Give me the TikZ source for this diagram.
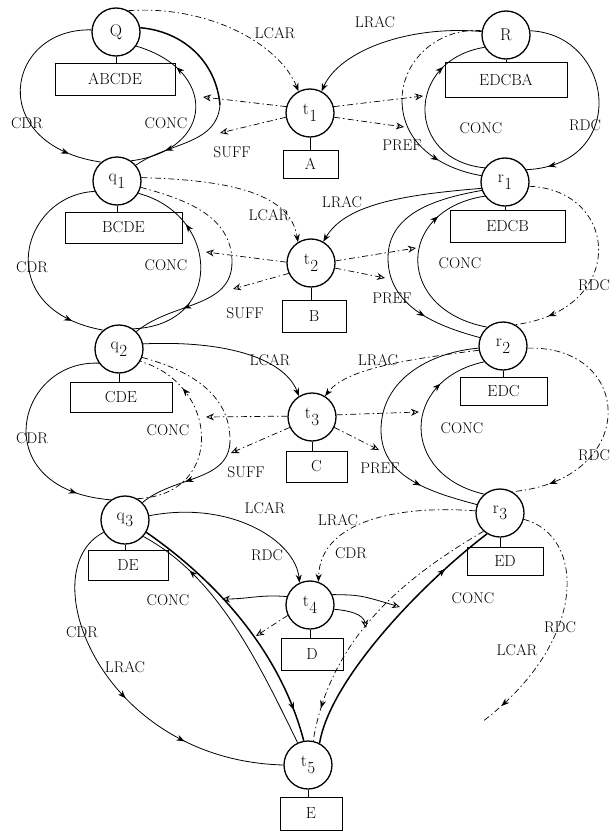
\documentclass[tikz,border=0pt]{standalone}
\usetikzlibrary{arrows.meta,decorations.markings}
\newcommand\tsub[2]{#1\kern0.5pt\raisebox{-0.4em}{#2}}
\tikzset{
  st/.style={circle,draw,line width=1.3pt,minimum size=48pt,inner sep=0pt,font=\fontsize{17}{17}\selectfont},
  bx/.style={draw,line width=0.9pt,inner sep=0pt,font=\fontsize{16}{16}\selectfont},
  lb/.style={inner sep=0pt,font=\fontsize{15.5}{16}\selectfont},
  ln/.style={line width=0.8pt},
  fa/.style={line width=0.7pt,dash pattern=on 6pt off 3pt on 1.5pt off 3pt},
  thk/.style={line width=1.5pt},
  ar/.style={postaction={decorate,decoration={markings,mark=at position #1 with {\arrow{Stealth[length=8pt,width=6pt]}}}}},
  ae/.style={-{Stealth[length=8pt,width=6pt]}},
  ho/.style={-{Stealth[open,length=8pt,width=7pt,line width=0.8pt]}},
}
\begin{document}
\begin{tikzpicture}[x=1pt,y=-1pt]
\useasboundingbox (0,0) rectangle (614,832);
% state nodes
\node[st] (Q) at (116,32) {Q};
\node[st] (R) at (506,35) {R};
\node[st] (t1) at (310,113) {\tsub{t}{1}};
\node[st] (q1) at (117,181) {\tsub{q}{1}};
\node[st] (r1) at (505,182) {\tsub{r}{1}};
\node[st] (t2) at (311,263) {\tsub{t}{2}};
\node[st] (q2) at (119,349) {\tsub{q}{2}};
\node[st] (r2) at (503,346) {\tsub{r}{2}};
\node[st] (t3) at (312,417) {\tsub{t}{3}};
\node[st] (q3) at (125,520) {\tsub{q}{3}};
\node[st] (r3) at (500,513) {\tsub{r}{3}};
\node[st] (t4) at (310,605) {\tsub{t}{4}};
\node[st] (t5) at (308,765) {\tsub{t}{5}};
% value boxes
\node[bx,minimum width=120pt,minimum height=32pt] (bQ) at (115,79) {ABCDE};
\node[bx,minimum width=122pt,minimum height=35pt] (bR) at (506,79.5) {EDCBA};
\node[bx,minimum width=55pt,minimum height=28pt] (b1) at (310.5,164) {A};
\node[bx,minimum width=117pt,minimum height=31pt] (bq1) at (123.5,227.5) {BCDE};
\node[bx,minimum width=115pt,minimum height=32pt] (br1) at (507.5,226) {EDCB};
\node[bx,minimum width=64pt,minimum height=32pt] (b2) at (314,316) {B};
\node[bx,minimum width=102pt,minimum height=30pt] (bq2) at (121,397) {CDE};
\node[bx,minimum width=87pt,minimum height=28pt] (br2) at (503.5,391) {EDC};
\node[bx,minimum width=61pt,minimum height=31pt] (b3) at (316.5,466.5) {C};
\node[bx,minimum width=80pt,minimum height=30pt] (bq3) at (128,565) {DE};
\node[bx,minimum width=76pt,minimum height=28pt] (br3) at (505,561) {ED};
\node[bx,minimum width=62pt,minimum height=32pt] (b4) at (312,654) {D};
\node[bx,minimum width=62pt,minimum height=33pt] (b5) at (311,813.5) {E};
\foreach \n/\b in {Q/bQ,R/bR,t1/b1,q1/bq1,r1/br1,t2/b2,q2/bq2,r2/br2,t3/b3,q3/bq3,r3/br3,t4/b4,t5/b5}
  \draw[ln] (\n.south) -- (\n.south |- \b.north);
% labels
\node[lb] (la1) at (275,33) {LCAR};
\node[lb] (la2) at (375,22) {LRAC};
\node[lb] (la3) at (27,123) {CDR};
\node[lb] (la4) at (166,123) {CONC};
\node[lb] (la5) at (232,152) {SUFF};
\node[lb] (la6) at (402,145) {PREF};
\node[lb] (la7) at (481,128) {CONC};
\node[lb] (la8) at (585,125) {RDC};
\node[lb] (la9) at (269,215) {LCAR};
\node[lb] (la10) at (342,202) {LRAC};
\node[lb] (la11) at (32,267) {CDR};
\node[lb] (la12) at (166,265) {CONC};
\node[lb] (la13) at (245,313) {SUFF};
\node[lb] (la14) at (392,298) {PREF};
\node[lb] (la15) at (460,263) {CONC};
\node[lb] (la16) at (594,285) {RDC};
\node[lb] (la17) at (270,360) {LCAR};
\node[lb] (la18) at (378,360) {LRAC};
\node[lb] (la19) at (32,438) {CDR};
\node[lb] (la20) at (168,430) {CONC};
\node[lb] (la21) at (246,472) {SUFF};
\node[lb] (la22) at (380,468) {PREF};
\node[lb] (la23) at (462,428) {CONC};
\node[lb] (la24) at (594,455) {RDC};
\node[lb] (la25) at (265,508) {LCAR};
\node[lb] (la26) at (338,520) {LRAC};
\node[lb] (la27) at (267,555) {RDC};
\node[lb] (la28) at (351,553) {CDR};
\node[lb] (la29) at (168,600) {CONC};
\node[lb] (la30) at (473,598) {CONC};
\node[lb] (la31) at (82,632) {CDR};
\node[lb] (la32) at (125,667) {LRAC};
\node[lb] (la33) at (560,627) {RDC};
\node[lb] (la34) at (517,650) {LCAR};
% junction coordinates
\coordinate (k1) at (220,105);
\coordinate (k2) at (232,262);
\coordinate (k3) at (230,440);
\coordinate (k1R) at (402,100);
\coordinate (k2R) at (388,258);
\coordinate (k3R) at (381,430);
\coordinate (cm1L) at (203,97);
\coordinate (sm1L) at (220,133);
\coordinate (cm2L) at (206,252);
\coordinate (sm2L) at (233,289);
\coordinate (cm3L) at (206,417);
\coordinate (sm3L) at (231,453);
\coordinate (cm1R) at (423,96);
\coordinate (sm1R) at (404,127);
\coordinate (cm2R) at (416,248);
\coordinate (sm2R) at (385,278);
\coordinate (cm3R) at (419,412);
\coordinate (sm3R) at (379,450);
\coordinate (cm4L) at (222,599);
\coordinate (sm4L) at (256,636);
\coordinate (cm4R) at (400,607);
\coordinate (sm4R) at (366,628);
\coordinate (rend) at (482,722);
% level 1 left
\draw[ln,ar=0.85] (Q.175) .. controls (5,28) and (-15,145) .. (q1.130);
\draw[fa,ae] (Q.60) .. controls (210,5) and (280,45) .. (t1.118);
\draw[ln,ar=0.75] (q1.55) .. controls (215,150) and (218,70) .. (Q.-35);
\draw[thk] (Q.10) to[out=-5,in=95] (k1);
\draw[ln,ar=0.7] (k1) to[out=-95,in=35] (q1.40);
\draw[fa,ho] (t1.165) -- (cm1L);
\draw[fa,ho] (t1.190) -- (sm1L);
% level 1 right
\draw[ln,ar=0.9] (R.10) .. controls (615,35) and (630,165) .. (r1.30);
\draw[ln,ae] (R.172) .. controls (410,25) and (340,50) .. (t1.62);
\draw[ln,ar=0.75] (r1.145) .. controls (405,160) and (405,60) .. (R.210);
\draw[fa] (R.170) to[out=175,in=90] (k1R);
\draw[ln,ar=0.62] (k1R) to[out=-90,in=170] (r1.165);
\draw[fa,ho] (t1.15) -- (cm1R);
\draw[fa,ho] (t1.-10) -- (sm1R);
% level 2 left
\draw[ln,ar=0.85] (q1.205) .. controls (20,195) and (-10,310) .. (q2.130);
\draw[fa,ae] (q1.8) .. controls (220,180) and (290,190) .. (t2.122);
\draw[ln,ar=0.72] (q2.55) .. controls (225,325) and (220,215) .. (q1.-30);
\draw[fa] (q1.-15) to[out=-15,in=90] (k2);
\draw[ln,ar=0.58] (k2) to[out=-90,in=40] (q2.45);
\draw[fa,ho] (t2.178) -- (cm2L);
\draw[fa,ho] (t2.205) -- (sm2L);
% level 2 right
\draw[fa,ar=0.85] (r1.-10) .. controls (620,190) and (628,310) .. (r2.60);
\draw[ln,ae] (r1.195) .. controls (400,195) and (345,205) .. (t2.60);
\draw[ln,ar=0.75] (r2.130) .. controls (395,310) and (395,210) .. (r1.215);
\draw[ln] (r1.200) to[out=190,in=90] (k2R);
\draw[ln,ar=0.55] (k2R) to[out=-90,in=165] (r2.160);
\draw[fa,ho] (t2.5) -- (cm2R);
\draw[fa,ho] (t2.-12) -- (sm2R);
% level 3 left
\draw[ln,ar=0.85] (q2.215) .. controls (15,360) and (-15,490) .. (q3.125);
\draw[ln,ae] (q2.12) .. controls (230,340) and (285,360) .. (t3.122);
\draw[fa,ar=0.75] (q3.60) .. controls (225,495) and (220,385) .. (q2.-30);
\draw[fa] (q2.-20) to[out=-15,in=90] (k3);
\draw[ln,ar=0.58] (k3) to[out=-90,in=40] (q3.45);
\draw[fa,ho] (t3.178) -- (cm3L);
\draw[fa,ho] (t3.205) -- (sm3L);
% level 3 right
\draw[fa,ar=0.85] (r2.-5) .. controls (635,345) and (640,480) .. (r3.60);
\draw[fa,ae] (r2.190) .. controls (400,360) and (345,370) .. (t3.58);
\draw[ln,ar=0.75] (r3.130) .. controls (400,475) and (400,380) .. (r2.220);
\draw[ln] (r2.185) to[out=185,in=90] (k3R);
\draw[ln,ar=0.55] (k3R) to[out=-90,in=165] (r3.160);
\draw[fa,ho] (t3.5) -- (cm3R);
\draw[fa,ho] (t3.-25) -- (sm3R);
% level 4
\draw[ln,ae] (q3.10) .. controls (230,500) and (295,540) .. (t4.115);
\draw[fa,ae] (r3.175) .. controls (400,505) and (320,520) .. (t4.70);
\draw[ln,ar=0.52,ar=0.72] (q3.210) .. controls (30,570) and (100,760) .. (t5.180);
\draw[fa,ar=0.9] (r3.-15) .. controls (585,535) and (590,640) .. (rend);
\draw[thk,ar=0.88] (q3.-30) .. controls (215,580) and (280,650) .. (t5.100);
\draw[ln,ar=0.78] (t5.115) .. controls (255,655) and (215,575) .. (q3.-42);
\draw[fa,ar=0.88] (r3.228) .. controls (400,580) and (330,640) .. (t5.78);
\draw[thk,ar=0.8] (t5.62) .. controls (330,680) and (420,585) .. (r3.238);
\draw[ln,ho] (t4.160) to[out=175,in=0] (cm4L);
\draw[fa,ho] (t4.205) -- (sm4L);
\draw[ln,ho] (t4.25) .. controls (360,595) .. (cm4R);
\draw[ln,ho] (t4.-10) to[out=-5,in=100] (sm4R);
\end{tikzpicture}
\end{document}
